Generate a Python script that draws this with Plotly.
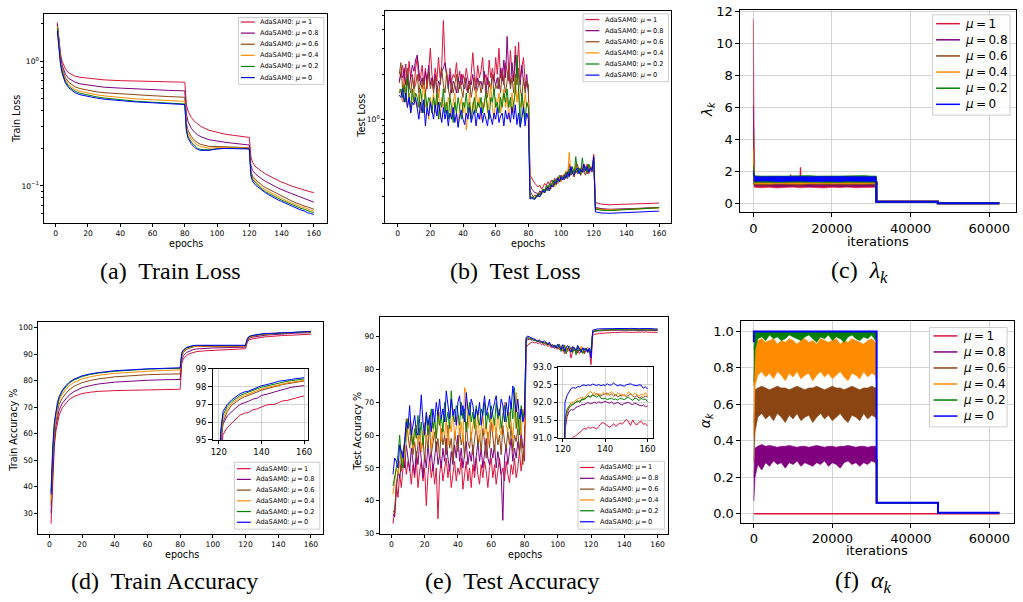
import math
import plotly.graph_objects as go

W, H = 1023, 602

# ======================= DATA =======================
MU_LABELS = ["1", "0.8", "0.6", "0.4", "0.2", "0"]

EPOCHS_TRAIN = [1, 2, 3, 4, 5, 6, 8, 10, 12, 15, 20, 25, 30, 40, 50, 60, 70, 79, 80,
                81, 82, 84, 86, 88, 90, 95, 100, 105, 110, 115, 119, 120, 121, 122,
                124, 126, 128, 130, 132, 134, 136, 138, 140, 142, 144, 146, 148, 150,
                152, 154, 156, 158, 160]

TRAIN_LOSS_MU1 = [2.05, 1.45, 1.15, 1.0, 0.92, 0.87, 0.81, 0.78, 0.76, 0.745, 0.73, 0.72, 0.71,
                  0.70, 0.695, 0.69, 0.685, 0.68, 0.68, 0.45, 0.40, 0.355, 0.33, 0.315, 0.30,
                  0.28, 0.268, 0.26, 0.255, 0.25, 0.245, 0.245, 0.17, 0.155,
                  0.142, 0.135, 0.13, 0.125, 0.121, 0.117, 0.113, 0.11, 0.107, 0.105, 0.102,
                  0.1, 0.098, 0.096, 0.095, 0.093, 0.091, 0.0895, 0.0885]
TRAIN_LOSS_MU08 = [2.0, 1.38, 1.08, 0.93, 0.84, 0.79, 0.73, 0.70, 0.68, 0.66, 0.645, 0.63, 0.62,
                   0.61, 0.60, 0.592, 0.585, 0.58, 0.58, 0.38, 0.33, 0.29, 0.27, 0.257, 0.248,
                   0.235, 0.228, 0.224, 0.22, 0.216, 0.213, 0.213, 0.145, 0.133,
                   0.124, 0.118, 0.113, 0.109, 0.105, 0.102, 0.099, 0.096, 0.094, 0.091, 0.089,
                   0.087, 0.085, 0.083, 0.081, 0.079, 0.077, 0.0755, 0.074]
TRAIN_LOSS_MU06 = [1.95, 1.32, 1.03, 0.88, 0.79, 0.74, 0.68, 0.65, 0.625, 0.605, 0.585, 0.57, 0.56,
                   0.548, 0.538, 0.53, 0.522, 0.515, 0.515, 0.32, 0.28, 0.25, 0.232, 0.222, 0.215,
                   0.208, 0.207, 0.206, 0.205, 0.204, 0.203, 0.203, 0.132, 0.12,
                   0.112, 0.106, 0.101, 0.097, 0.094, 0.091, 0.088, 0.085, 0.083, 0.08, 0.078,
                   0.076, 0.074, 0.072, 0.071, 0.069, 0.068, 0.066, 0.065]
TRAIN_LOSS_MU04 = [1.9, 1.28, 1.0, 0.85, 0.76, 0.71, 0.65, 0.62, 0.595, 0.575, 0.555, 0.54, 0.528,
                   0.512, 0.5, 0.492, 0.484, 0.477, 0.477, 0.30, 0.265, 0.238, 0.222, 0.212, 0.206,
                   0.201, 0.203, 0.204, 0.203, 0.202, 0.201, 0.201, 0.128, 0.116,
                   0.108, 0.102, 0.097, 0.093, 0.09, 0.087, 0.084, 0.082, 0.079, 0.077, 0.075,
                   0.073, 0.071, 0.07, 0.068, 0.067, 0.065, 0.064, 0.063]
TRAIN_LOSS_MU02 = [1.85, 1.25, 0.97, 0.83, 0.74, 0.69, 0.63, 0.60, 0.575, 0.555, 0.535, 0.52, 0.508,
                   0.49, 0.478, 0.47, 0.462, 0.455, 0.455, 0.285, 0.25, 0.225, 0.21, 0.2, 0.196,
                   0.195, 0.199, 0.201, 0.201, 0.2, 0.199, 0.199, 0.124, 0.113,
                   0.105, 0.099, 0.094, 0.09, 0.087, 0.084, 0.082, 0.079, 0.077, 0.075, 0.073,
                   0.071, 0.069, 0.068, 0.066, 0.065, 0.063, 0.062, 0.061]
TRAIN_LOSS_MU0 = [1.75, 1.2, 0.94, 0.8, 0.72, 0.67, 0.615, 0.585, 0.56, 0.54, 0.522, 0.508, 0.497,
                  0.482, 0.472, 0.465, 0.457, 0.45, 0.45, 0.275, 0.242, 0.218, 0.204, 0.196, 0.193,
                  0.193, 0.198, 0.2, 0.2, 0.199, 0.198, 0.198, 0.12, 0.109,
                  0.101, 0.096, 0.091, 0.088, 0.085, 0.082, 0.08, 0.077, 0.075, 0.073, 0.071,
                  0.069, 0.067, 0.066, 0.064, 0.063, 0.061, 0.06, 0.059]

TRAIN_ACC_MU1 = [26, 44, 55, 61, 64.5, 67, 69.8, 71.5, 72.8, 74, 75.1, 75.6, 75.9,
                 76.2, 76.4, 76.5, 76.6, 76.7, 76.7, 86.5, 88.2, 89.5, 90.2, 90.6, 90.9,
                 91.2, 91.35, 91.5, 91.6, 91.7, 91.8, 92.0, 94.3, 95.3,
                 95.7, 95.95, 96.15, 96.4, 96.5, 96.55, 96.7, 96.75, 96.85, 96.95, 97.0,
                 97.0, 97.1, 97.2, 97.22, 97.3, 97.35, 97.42, 97.48]
TRAIN_ACC_MU08 = [30, 47, 57, 63, 66.5, 69, 71.5, 73, 74.5, 75.8, 77.3, 78.1, 78.7,
                  79.4, 79.8, 80.1, 80.3, 80.4, 80.4, 87.8, 89.3, 90.6, 91.3, 91.7, 91.9,
                  92.2, 92.3, 92.35, 92.4, 92.45, 92.5, 92.6, 94.8, 95.9,
                  96.35, 96.6, 96.8, 97.0, 97.08, 97.18, 97.3, 97.35, 97.5, 97.55, 97.62,
                  97.7, 97.78, 97.85, 97.9, 97.96, 97.98, 98.02, 98.06]
TRAIN_ACC_MU06 = [33, 50, 59, 65, 68.5, 71, 73.5, 75, 76.5, 77.8, 79.2, 80, 80.6,
                  81.4, 81.9, 82.2, 82.4, 82.5, 82.5, 89.2, 90.6, 91.8, 92.4, 92.7, 92.85,
                  92.9, 92.85, 92.8, 92.75, 92.8, 92.85, 92.95, 95.0, 96.0,
                  96.6, 96.95, 97.15, 97.3, 97.42, 97.5, 97.6, 97.7, 97.8, 97.87, 97.92,
                  97.99, 98.06, 98.12, 98.16, 98.2, 98.25, 98.28, 98.32]
TRAIN_ACC_MU04 = [35, 52, 61, 66.5, 70, 72.5, 75, 76.6, 78, 79.3, 80.6, 81.4, 82,
                  82.7, 83.2, 83.5, 83.8, 84, 84, 89.8, 91, 92.1, 92.7, 92.9, 93.0,
                  93.05, 93.0, 92.95, 92.9, 92.95, 93.0, 93.1, 95.2, 96.2,
                  96.75, 97.05, 97.25, 97.4, 97.5, 97.58, 97.68, 97.78, 97.87, 97.93, 97.98,
                  98.05, 98.12, 98.17, 98.21, 98.25, 98.29, 98.32, 98.35]
TRAIN_ACC_MU02 = [38, 54, 63, 68, 71, 73.5, 76, 77.6, 79, 80.2, 81.5, 82.3, 82.8,
                  83.5, 84, 84.3, 84.5, 84.6, 84.6, 90.2, 91.4, 92.4, 92.9, 93.1, 93.2,
                  93.2, 93.1, 93.05, 93.0, 93.05, 93.1, 93.2, 95.4, 96.4,
                  96.9, 97.15, 97.35, 97.5, 97.6, 97.68, 97.78, 97.88, 97.97, 98.03, 98.08,
                  98.15, 98.22, 98.26, 98.3, 98.34, 98.38, 98.41, 98.43]
TRAIN_ACC_MU0 = [37, 55, 64, 69, 72, 74, 76.5, 78, 79.3, 80.5, 81.8, 82.5, 83.0,
                 83.7, 84.1, 84.4, 84.6, 84.8, 84.8, 90.5, 91.6, 92.5, 93.0, 93.2, 93.3,
                 93.3, 93.2, 93.15, 93.1, 93.15, 93.2, 93.3, 95.6, 96.6,
                 97.0, 97.25, 97.45, 97.6, 97.7, 97.75, 97.85, 97.95, 98.05, 98.1, 98.15,
                 98.22, 98.3, 98.32, 98.38, 98.4, 98.45, 98.48, 98.5]

EPOCHS_TEST_LOSS = list(range(1, 121)) + [121, 125, 130, 135, 140, 145, 150, 155, 160]

TEST_LOSS_MU1 = [
    1.75, 2.1, 2.3, 1.8, 2.35, 1.7, 2.45, 1.9, 2.0, 1.6,
    2.2, 2.6, 1.8, 1.9, 2.3, 1.7, 2.2, 1.6, 2.1, 3.0,
    2.0, 1.7, 2.2, 1.8, 2.6, 1.9, 2.3, 4.6, 2.4, 2.0,
    1.7, 2.2, 1.8, 2.0, 1.9, 2.4, 1.8, 2.1, 1.7, 2.0,
    1.8, 2.2, 1.9, 1.6, 2.0, 2.8, 2.0, 1.7, 2.3, 1.9,
    2.1, 2.6, 1.8, 2.0, 1.7, 2.5, 1.9, 2.2, 1.8, 2.6,
    2.0, 3.0, 1.9, 2.2, 1.7, 2.4, 2.1, 1.8, 2.9, 2.0,
    1.8, 3.1, 2.0, 3.3, 1.9, 2.2, 2.6, 1.8, 1.7, 1.6,
    0.42, 0.40, 0.39, 0.37, 0.36, 0.35, 0.36, 0.34, 0.35, 0.37,
    0.36, 0.38, 0.36, 0.39, 0.37, 0.40, 0.38, 0.41, 0.39, 0.42,
    0.40, 0.43, 0.41, 0.45, 0.42, 0.48, 0.43, 0.46, 0.44, 0.50,
    0.45, 0.47, 0.44, 0.49, 0.46, 0.50, 0.45, 0.48, 0.47, 0.58,
    0.275, 0.268, 0.266, 0.267, 0.268, 0.269, 0.27, 0.272, 0.273]
TEST_LOSS_MU08 = [
    1.8, 2.0, 1.9, 2.2, 1.7, 2.0, 1.6, 1.9, 2.3, 2.1,
    2.5, 2.7, 2.0, 1.7, 1.9, 1.6, 2.1, 1.8, 2.3, 1.7,
    1.9, 1.6, 2.0, 1.5, 1.8, 1.7, 2.1, 2.2, 2.4, 1.9,
    1.6, 2.0, 1.5, 1.8, 1.7, 1.5, 1.9, 1.6, 2.0, 1.7,
    1.6, 1.9, 1.5, 1.8, 1.7, 2.0, 1.6, 1.5, 1.9, 1.7,
    1.8, 1.6, 2.1, 1.5, 1.9, 1.7, 1.6, 2.0, 1.8, 1.7,
    1.9, 1.6, 2.2, 1.8, 2.5, 1.9, 3.6, 2.0, 1.7, 2.4,
    1.8, 2.7, 1.9, 2.0, 1.7, 2.3, 1.8, 1.6, 2.0, 1.5,
    0.37, 0.34, 0.33, 0.32, 0.32, 0.31, 0.33, 0.32, 0.34, 0.33,
    0.35, 0.34, 0.36, 0.35, 0.37, 0.36, 0.38, 0.37, 0.40, 0.38,
    0.41, 0.39, 0.43, 0.40, 0.46, 0.42, 0.44, 0.41, 0.47, 0.43,
    0.45, 0.42, 0.49, 0.44, 0.46, 0.43, 0.48, 0.45, 0.44, 0.53,
    0.255, 0.25, 0.248, 0.248, 0.25, 0.251, 0.252, 0.254, 0.255]
TEST_LOSS_MU06 = [
    2.0, 2.4, 1.6, 1.8, 1.5, 2.2, 1.7, 1.5, 1.9, 1.6,
    1.7, 2.0, 1.5, 1.8, 1.6, 1.9, 1.5, 1.7, 2.1, 1.6,
    1.8, 1.5, 1.9, 1.6, 1.4, 1.8, 2.2, 1.7, 1.5, 2.1,
    1.6, 1.4, 1.8, 1.5, 1.7, 2.0, 1.5, 1.8, 1.6, 1.4,
    1.9, 1.6, 1.5, 1.8, 1.4, 1.7, 1.9, 1.5, 1.6, 1.8,
    1.5, 1.7, 1.9, 1.6, 1.4, 1.8, 1.6, 2.0, 1.5, 1.7,
    1.6, 1.9, 1.5, 2.1, 1.7, 1.5, 1.8, 2.3, 1.6, 1.9,
    1.5, 2.0, 1.7, 2.2, 1.6, 1.4, 1.9, 1.5, 1.8, 1.7,
    0.33, 0.31, 0.30, 0.31, 0.30, 0.32, 0.31, 0.33, 0.32, 0.34,
    0.33, 0.36, 0.34, 0.37, 0.35, 0.39, 0.36, 0.40, 0.38, 0.42,
    0.39, 0.41, 0.44, 0.40, 0.50, 0.42, 0.45, 0.41, 0.48, 0.43,
    0.46, 0.42, 0.47, 0.44, 0.42, 0.48, 0.43, 0.46, 0.45, 0.52,
    0.252, 0.248, 0.246, 0.247, 0.248, 0.25, 0.251, 0.253, 0.255]
TEST_LOSS_MU04 = [
    1.6, 1.5, 1.3, 1.8, 1.4, 1.2, 1.5, 1.1, 1.4, 1.6,
    1.3, 1.2, 1.5, 1.1, 1.4, 1.7, 1.2, 1.3, 1.0, 1.4,
    1.2, 1.5, 1.1, 1.3, 1.6, 1.0, 1.4, 1.2, 1.3, 1.1,
    1.4, 1.2, 1.0, 1.3, 1.5, 1.1, 0.9, 1.2, 1.4, 1.1,
    1.3, 0.85, 1.2, 1.5, 1.0, 1.3, 1.1, 1.6, 1.2, 1.4,
    1.0, 1.3, 1.2, 1.5, 1.1, 1.3, 1.7, 1.2, 1.0, 1.4,
    1.2, 1.5, 1.1, 1.3, 1.6, 1.2, 1.4, 1.0, 1.3, 1.5,
    1.1, 1.9, 1.3, 1.6, 1.2, 1.4, 1.1, 1.5, 1.2, 1.3,
    0.31, 0.30, 0.29, 0.30, 0.31, 0.30, 0.32, 0.31, 0.33, 0.32,
    0.35, 0.33, 0.36, 0.34, 0.38, 0.35, 0.39, 0.37, 0.41, 0.38,
    0.42, 0.40, 0.45, 0.41, 0.60, 0.43, 0.47, 0.42, 0.50, 0.44,
    0.46, 0.43, 0.49, 0.45, 0.47, 0.44, 0.48, 0.46, 0.45, 0.54,
    0.25, 0.246, 0.245, 0.246, 0.247, 0.249, 0.25, 0.252, 0.253]
TEST_LOSS_MU02 = [
    1.5, 1.6, 1.4, 1.7, 1.3, 1.9, 1.4, 1.2, 1.6, 1.3,
    1.5, 1.4, 1.2, 1.6, 1.3, 1.1, 1.5, 1.2, 1.4, 1.3,
    1.1, 1.4, 1.2, 1.5, 1.0, 1.3, 1.2, 1.6, 1.1, 1.3,
    1.0, 1.4, 1.2, 0.95, 1.3, 1.1, 1.4, 1.2, 1.0, 1.3,
    1.2, 1.5, 1.1, 1.3, 1.0, 1.2, 1.4, 1.1, 1.3, 1.2,
    1.4, 1.1, 1.3, 1.5, 1.2, 1.0, 1.4, 1.3, 1.6, 1.2,
    1.3, 1.1, 1.4, 1.2, 1.5, 1.3, 1.6, 1.2, 1.4, 1.1,
    1.3, 1.5, 2.7, 1.4, 0.9, 1.5, 1.2, 1.0, 1.3, 1.2,
    0.30, 0.29, 0.30, 0.29, 0.31, 0.30, 0.32, 0.31, 0.34, 0.32,
    0.36, 0.33, 0.37, 0.35, 0.39, 0.36, 0.40, 0.38, 0.42, 0.39,
    0.41, 0.40, 0.44, 0.41, 0.46, 0.43, 0.48, 0.42, 0.56, 0.44,
    0.47, 0.43, 0.55, 0.45, 0.48, 0.44, 0.50, 0.46, 0.47, 0.55,
    0.248, 0.244, 0.243, 0.245, 0.246, 0.248, 0.25, 0.252, 0.254]
TEST_LOSS_MU0 = [
    1.45, 1.4, 1.6, 1.3, 1.5, 1.2, 1.4, 1.1, 1.3, 1.25,
    1.4, 1.2, 1.0, 1.3, 1.1, 1.35, 0.9, 1.2, 1.05, 1.3,
    1.1, 1.0, 1.25, 1.05, 1.3, 1.1, 0.95, 1.2, 1.0, 1.15,
    0.9, 1.1, 1.0, 1.2, 0.95, 1.1, 0.88, 1.05, 1.15, 1.0,
    0.92, 1.1, 1.0, 1.2, 0.95, 1.05, 1.15, 0.9, 1.1, 1.0,
    1.2, 0.95, 1.1, 1.0, 0.9, 1.15, 1.05, 0.92, 1.1, 1.0,
    1.2, 0.95, 1.05, 1.1, 0.9, 1.15, 1.0, 1.1, 0.95, 1.2,
    1.0, 1.25, 0.92, 1.1, 0.88, 1.05, 1.2, 0.9, 1.1, 1.0,
    0.29, 0.30, 0.29, 0.29, 0.30, 0.31, 0.30, 0.32, 0.33, 0.32,
    0.34, 0.35, 0.33, 0.36, 0.35, 0.38, 0.37, 0.40, 0.38, 0.41,
    0.39, 0.42, 0.40, 0.44, 0.41, 0.48, 0.43, 0.42, 0.45, 0.47,
    0.43, 0.46, 0.44, 0.50, 0.45, 0.48, 0.44, 0.47, 0.45, 0.56,
    0.238, 0.234, 0.233, 0.234, 0.236, 0.237, 0.238, 0.24, 0.241]

EPOCHS_TEST_ACC = list(range(1, 161))

TEST_ACC_MU1 = [
    33, 37, 45, 41, 48, 44, 50, 53, 48, 52,
    50, 45, 51, 47, 53, 44, 49, 52, 46, 50,
    38.5, 48, 53, 47, 51, 45, 50, 34.5, 48, 52,
    46, 50, 53, 47, 51, 44, 49, 52, 46, 50,
    48, 53, 43.5, 49, 52, 46, 50, 44, 51, 47,
    53, 48, 45, 51, 47, 52, 49, 44, 50, 53,
    47, 51, 45, 49, 53, 48, 50, 46, 52, 48,
    45.5, 51, 48, 53, 47, 50, 55, 49, 54, 52,
    86.7, 87.5, 87.9, 88.2, 88.4, 88.1, 88.3, 87.9, 88.2, 87.6,
    87.9, 87.3, 87.7, 87.0, 87.4, 86.7, 87.1, 86.4, 86.9, 86.2,
    86.7, 85.9, 86.5, 84.8, 86.0, 85.6, 86.4, 83.5, 85.8, 86.2,
    85.2, 86.0, 84.9, 85.7, 86.3, 85.0, 85.8, 85.3, 85.9, 81.5,
    90.5, 90.7, 90.85, 90.95, 91.03, 91.05, 91.1, 91.14, 91.2, 91.27,
    91.24, 91.3, 91.26, 91.3, 91.28, 91.25, 91.32, 91.4, 91.43, 91.38,
    91.35, 91.3, 91.33, 91.4, 91.32, 91.36, 91.42, 91.38, 91.45, 91.52,
    91.45, 91.35, 91.5, 91.4, 91.36, 91.44, 91.46, 91.38, 91.4, 91.33]
TEST_ACC_MU08 = [
    36, 35, 43, 49, 47, 52, 55, 50, 57, 53,
    49, 56, 52, 48, 55, 51, 58, 53, 47, 54,
    50, 57, 52, 55, 49, 53, 58, 51, 54, 50,
    56, 52, 59, 53, 49, 55, 51, 57, 53, 60,
    52, 56, 50, 54, 58, 51, 55, 52, 57, 49,
    54, 58, 52, 56, 50, 55, 59, 53, 51, 56,
    53, 57, 50, 55, 52, 48, 34, 53, 57, 51,
    55, 59, 52, 56, 53, 58, 55, 61, 56, 57,
    88.7, 89.1, 89.2, 89.0, 89.3, 88.9, 88.8, 88.5, 88.7, 88.3,
    88.4, 87.9, 88.2, 87.6, 87.9, 87.3, 87.6, 86.9, 87.3, 86.6,
    87.0, 86.2, 86.8, 85.9, 86.6, 86.2, 85.8, 86.7, 85.5, 86.3,
    85.9, 85.2, 86.5, 85.6, 86.1, 85.3, 86.4, 85.7, 85.9, 84.9,
    91.2, 91.6, 91.75, 91.8, 91.78, 91.85, 91.88, 91.9, 91.95, 91.93,
    91.97, 92.0, 91.96, 91.98, 92.0, 91.97, 92.02, 91.98, 92.0, 92.03,
    92.0, 91.98, 92.02, 91.95, 91.98, 92.0, 91.96, 91.93, 91.97, 91.98,
    92.0, 91.96, 91.94, 91.98, 91.95, 91.92, 91.9, 91.93, 91.88, 91.9]
TEST_ACC_MU06 = [
    37, 36, 45, 48, 52, 49, 55, 58, 65, 60,
    56, 61, 54, 58, 53, 57, 62, 55, 59, 52,
    60, 56, 63, 54, 58, 61, 55, 59, 53, 62,
    57, 60, 54, 63, 56, 59, 52, 61, 58, 55,
    62, 57, 60, 53, 64, 58, 56, 61, 54, 59,
    63, 57, 60, 55, 62, 58, 53, 61, 56, 64,
    59, 55, 62, 57, 60, 54, 63, 58, 56, 61,
    57, 63, 55, 60, 58, 62, 54, 59, 51, 60,
    89.2, 89.5, 89.3, 89.6, 89.0, 89.2, 88.7, 88.9, 88.4, 88.6,
    88.0, 88.3, 87.6, 88.0, 87.3, 87.7, 86.8, 87.4, 86.5, 87.2,
    86.0, 86.9, 85.6, 87.0, 85.8, 86.6, 86.1, 85.3, 86.8, 85.9,
    86.4, 85.0, 86.3, 85.7, 86.6, 84.8, 86.0, 85.5, 86.2, 85.4,
    91.3, 91.7, 91.85, 91.9, 91.95, 92.0, 92.02, 92.05, 92.08, 92.1,
    92.12, 92.2, 92.15, 92.22, 92.2, 92.25, 92.22, 92.18, 92.22, 92.25,
    92.27, 92.2, 92.24, 92.18, 92.22, 92.15, 92.2, 92.18, 92.22, 92.16,
    92.2, 92.24, 92.18, 92.15, 92.2, 92.12, 92.16, 92.14, 92.18, 92.16]
TEST_ACC_MU04 = [
    42, 46, 50, 48, 52, 55, 51, 53, 58, 65,
    60, 64, 56, 59, 63, 57, 61, 55, 60, 64,
    58, 62, 66, 56, 61, 65, 59, 63, 67, 58,
    62, 60, 65, 57, 64, 61, 68, 59, 63, 66,
    60, 64, 58, 74.5, 73, 62, 66, 59, 63, 65,
    61, 67, 58, 62, 66, 60, 64, 57, 63, 67,
    61, 65, 59, 68, 62, 60, 66, 70, 63, 61,
    67, 64, 59, 66, 73, 62, 65, 60, 68, 63,
    89.3, 89.7, 89.4, 89.6, 89.1, 89.3, 88.8, 88.6, 88.9, 88.3,
    88.5, 88.0, 87.7, 88.2, 87.4, 87.8, 86.9, 87.5, 86.6, 87.1,
    86.3, 87.4, 85.9, 86.8, 87.3, 85.5, 86.7, 85.9, 87.0, 86.2,
    85.4, 86.6, 85.7, 87.1, 85.1, 86.4, 85.8, 86.9, 85.3, 86.0,
    91.4, 91.8, 91.9, 92.0, 92.0, 92.05, 92.1, 92.12, 92.15, 92.1,
    92.2, 92.25, 92.32, 92.25, 92.28, 92.2, 92.25, 92.22, 92.28, 92.25,
    92.2, 92.27, 92.3, 92.24, 92.2, 92.28, 92.22, 92.25, 92.18, 92.22,
    92.3, 92.25, 92.2, 92.26, 92.22, 92.18, 92.24, 92.2, 92.28, 92.2]
TEST_ACC_MU02 = [
    44.5, 47, 50, 54, 60, 52, 50, 57, 61, 65,
    63, 60, 57, 62, 59, 66, 60, 64, 57, 62,
    66, 60, 64, 68, 62, 65, 59, 67, 63, 66,
    61, 70, 64, 67, 62, 73.5, 66, 64, 69, 67,
    63, 70, 65, 68, 61, 66, 70, 64, 67, 62,
    69, 65, 63, 68, 66, 70, 62, 67, 64, 69,
    66, 63, 70, 65, 68, 62, 66, 69, 64, 67,
    62, 70, 65, 74.5, 62, 67, 60, 69, 65, 68,
    89.5, 89.8, 89.6, 89.3, 89.0, 88.8, 88.9, 88.5, 88.7, 88.2,
    88.5, 87.8, 88.4, 87.5, 87.9, 87.2, 87.6, 86.8, 87.3, 86.5,
    87.8, 85.5, 86.9, 87.5, 84.8, 86.4, 87.2, 85.9, 85.2, 86.7,
    84.5, 87.0, 85.8, 86.3, 84.9, 86.5, 85.6, 86.2, 85.0, 85.8,
    91.5, 91.8, 91.9, 91.95, 91.95, 92.0, 92.05, 92.0, 92.1, 92.08,
    92.12, 92.18, 92.15, 92.2, 92.18, 92.15, 92.2, 92.12, 92.1, 92.12,
    92.08, 92.1, 92.12, 92.08, 92.1, 92.06, 92.12, 92.1, 92.08, 92.12,
    92.15, 92.1, 92.06, 92.12, 92.1, 92.05, 92.12, 92.08, 92.1, 92.02]
TEST_ACC_MU0 = [
    48, 53, 52, 50, 57, 55, 53, 58, 64, 62,
    69, 60, 63, 66, 61, 60, 65, 72.3, 64, 60,
    67, 63, 66, 61, 68, 64, 70, 66, 71, 65,
    68, 64, 73.5, 69, 65, 71, 66, 68, 63, 70,
    72, 66, 69, 64, 73, 68, 66, 71, 69, 65,
    68, 66, 70, 63, 67, 72, 66, 69, 71, 65,
    68, 70, 72, 67, 66, 71, 69, 64, 70, 66,
    72, 68, 75, 70, 67, 71, 65, 68, 64, 66,
    89.8, 90.2, 90.0, 89.7, 89.5, 89.2, 89.0, 88.6, 89.0, 88.5,
    88.3, 88.8, 88.0, 87.6, 88.4, 87.2, 86.8, 87.5, 86.5, 87.8,
    86.9, 86.2, 87.6, 85.5, 86.8, 87.3, 86.1, 85.4, 87.0, 86.3,
    85.8, 87.4, 86.0, 85.2, 86.7, 85.9, 86.5, 85.3, 86.6, 83.5,
    92.0, 92.2, 92.3, 92.4, 92.42, 92.4, 92.45, 92.44, 92.48, 92.5,
    92.47, 92.5, 92.48, 92.52, 92.5, 92.48, 92.51, 92.47, 92.5, 92.48,
    92.53, 92.49, 92.5, 92.55, 92.5, 92.47, 92.5, 92.48, 92.46, 92.5,
    92.52, 92.53, 92.5, 92.48, 92.47, 92.5, 92.49, 92.4, 92.45, 92.38]

# lambda_k : per-iteration band envelopes (upper / lower) during epochs 1-80
LAM_ITERS = [0, 300, 2000, 4000, 6000, 8000, 10000, 12000, 14000, 16000, 18000,
             20000, 22000, 24000, 26000, 28000, 30000, 31280]
LAM_UP_MU1 = [11.5, 1.6, 1.58, 1.6, 1.57, 1.6, 1.59, 1.6, 1.58, 1.6, 1.59, 1.58, 1.6, 1.59, 1.6, 1.58, 1.6, 1.59]
LAM_LO_MU1 = [1.5, 1.0, 0.97, 1.0, 0.96, 0.99, 1.01, 0.97, 1.0, 0.98, 0.96, 1.0, 0.98, 1.01, 0.97, 0.99, 0.98, 1.0]
LAM_UP_MU08 = [6.1, 1.62, 1.6, 1.61, 1.6, 1.62, 1.6, 1.61, 1.6, 1.62, 1.6, 1.61, 1.6, 1.62, 1.6, 1.61, 1.6, 1.61]
LAM_LO_MU08 = [1.5, 1.08, 1.06, 1.08, 1.05, 1.07, 1.06, 1.08, 1.05, 1.07, 1.06, 1.08, 1.05, 1.07, 1.06, 1.05, 1.07, 1.06]
LAM_UP_MU06 = [4.3, 1.62, 1.61, 1.62, 1.6, 1.62, 1.61, 1.62, 1.6, 1.61, 1.62, 1.6, 1.62, 1.61, 1.62, 1.6, 1.61, 1.62]
LAM_LO_MU06 = [1.6, 1.14, 1.15, 1.13, 1.16, 1.14, 1.15, 1.13, 1.16, 1.14, 1.15, 1.13, 1.15, 1.14, 1.16, 1.13, 1.15, 1.14]
LAM_UP_MU04 = [3.4, 1.65, 1.64, 1.65, 1.66, 1.64, 1.65, 1.64, 1.66, 1.65, 1.64, 1.65, 1.66, 1.64, 1.65, 1.64, 1.66, 1.65]
LAM_LO_MU04 = [1.7, 1.22, 1.23, 1.21, 1.24, 1.22, 1.23, 1.21, 1.24, 1.22, 1.23, 1.22, 1.24, 1.21, 1.23, 1.22, 1.24, 1.22]
LAM_UP_MU02 = [2.4, 1.72, 1.7, 1.72, 1.71, 1.7, 1.72, 1.71, 1.73, 1.7, 1.72, 1.71, 1.7, 1.72, 1.71, 1.73, 1.7, 1.71]
LAM_LO_MU02 = [1.8, 1.3, 1.31, 1.3, 1.32, 1.3, 1.31, 1.3, 1.32, 1.31, 1.3, 1.32, 1.3, 1.31, 1.3, 1.32, 1.31, 1.3]
LAM_UP_MU0 = [2.1, 1.68, 1.66, 1.67, 1.65, 1.67, 1.66, 1.68, 1.66, 1.67, 1.65, 1.67, 1.66, 1.68, 1.66, 1.67, 1.66, 1.65]
LAM_LO_MU0 = [1.9, 1.38, 1.37, 1.39, 1.36, 1.38, 1.37, 1.39, 1.36, 1.38, 1.37, 1.38, 1.36, 1.39, 1.37, 1.38, 1.36, 1.37]
LAM_SPIKE_ITERS = [9400, 9500, 9600, 11900, 12000, 12100]
LAM_SPIKE_MU1 = [1.6, 1.8, 1.6, 1.6, 2.25, 1.6]
LAM_POST_ITERS = [31280, 31280, 46920, 46920, 62560]
LAM_POST = [1.37, 0.1, 0.1, 0.005, 0.005]

# alpha_k : band envelopes during epochs 1-80
AL_ITERS = [0, 300, 1000, 2000, 3000, 4000, 5000, 6000, 7000, 8000, 9000, 10000,
            11000, 12000, 13000, 14000, 15000, 16000, 17000, 18000, 19000, 20000,
            21000, 22000, 23000, 24000, 25000, 26000, 27000, 28000, 29000, 30000,
            31000, 31280]
AL_UP_MU08 = [0.2, 0.36, 0.37, 0.38, 0.37, 0.375, 0.37, 0.365, 0.37, 0.37, 0.375, 0.37,
              0.365, 0.37, 0.37, 0.365, 0.37, 0.375, 0.37, 0.365, 0.37, 0.37, 0.365,
              0.37, 0.37, 0.375, 0.37, 0.365, 0.37, 0.37, 0.365, 0.37, 0.37, 0.365]
AL_LO_MU08 = [0.07, 0.2, 0.27, 0.24, 0.28, 0.26, 0.29, 0.27, 0.28, 0.25, 0.28, 0.27,
              0.29, 0.26, 0.28, 0.27, 0.26, 0.28, 0.27, 0.29, 0.26, 0.28, 0.27,
              0.25, 0.28, 0.29, 0.27, 0.28, 0.26, 0.28, 0.27, 0.29, 0.28, 0.26]
AL_UP_MU06 = [0.5, 0.68, 0.69, 0.7, 0.69, 0.68, 0.69, 0.7, 0.69, 0.69, 0.68, 0.69,
              0.7, 0.69, 0.68, 0.69, 0.69, 0.7, 0.69, 0.68, 0.69, 0.7, 0.69,
              0.69, 0.68, 0.69, 0.7, 0.69, 0.68, 0.69, 0.69, 0.7, 0.69, 0.68]
AL_LO_MU06 = [0.28, 0.45, 0.53, 0.55, 0.52, 0.54, 0.51, 0.55, 0.53, 0.5, 0.54, 0.52,
              0.55, 0.51, 0.53, 0.54, 0.5, 0.53, 0.55, 0.52, 0.54, 0.51, 0.53,
              0.55, 0.52, 0.5, 0.54, 0.53, 0.51, 0.55, 0.52, 0.54, 0.53, 0.51]
AL_UP_MU04 = [0.7, 0.93, 0.95, 0.96, 0.94, 0.95, 0.96, 0.93, 0.95, 0.94, 0.96, 0.95,
              0.93, 0.95, 0.96, 0.94, 0.95, 0.93, 0.96, 0.95, 0.94, 0.95, 0.96,
              0.93, 0.95, 0.94, 0.96, 0.95, 0.94, 0.93, 0.95, 0.96, 0.94, 0.95]
AL_LO_MU04 = [0.42, 0.7, 0.76, 0.78, 0.75, 0.77, 0.74, 0.78, 0.76, 0.73, 0.77, 0.75,
              0.78, 0.74, 0.76, 0.77, 0.73, 0.76, 0.78, 0.75, 0.77, 0.74, 0.76,
              0.78, 0.75, 0.73, 0.77, 0.76, 0.74, 0.78, 0.75, 0.77, 0.76, 0.72]
AL_UP_MU02 = [0.9, 1.0, 1.0, 1.0, 1.0, 1.0, 1.0, 1.0, 1.0, 1.0, 1.0, 1.0,
              1.0, 1.0, 1.0, 1.0, 1.0, 1.0, 1.0, 1.0, 1.0, 1.0, 1.0,
              1.0, 1.0, 1.0, 1.0, 1.0, 1.0, 1.0, 1.0, 1.0, 1.0, 1.0]
AL_LO_MU02 = [0.72, 0.9, 0.96, 0.97, 0.95, 0.98, 0.96, 0.97, 0.95, 0.96, 0.98, 0.97,
              0.96, 0.95, 0.97, 0.98, 0.96, 0.94, 0.97, 0.96, 0.98, 0.95, 0.97,
              0.96, 0.94, 0.97, 0.98, 0.96, 0.95, 0.97, 0.96, 0.98, 0.95, 0.97]
AL_MU1_ITERS = [0, 62560]
AL_MU1 = [0.0, 0.0]
AL_MU0_ITERS = [0, 0, 31280, 31280, 46920, 46920, 62560]
AL_MU0 = [0.94, 1.0, 1.0, 0.06, 0.06, 0.005, 0.005]
AL_POST_ITERS = [31280, 31280, 46920, 46920, 62560]
AL_POST = [0.3, 0.06, 0.06, 0.005, 0.005]

IT_TICKS = [0, 20000, 40000, 60000]
IT_TICK_LABELS = ["0", "20000", "40000", "60000"]

# ======================= STYLE =======================
COLORS = ["#DC143C", "#800080", "#8B4513", "#FF8C00", "#008000", "#0000FF"]

TRAIN_LOSS = [TRAIN_LOSS_MU1, TRAIN_LOSS_MU08, TRAIN_LOSS_MU06, TRAIN_LOSS_MU04, TRAIN_LOSS_MU02, TRAIN_LOSS_MU0]
TRAIN_ACC = [TRAIN_ACC_MU1, TRAIN_ACC_MU08, TRAIN_ACC_MU06, TRAIN_ACC_MU04, TRAIN_ACC_MU02, TRAIN_ACC_MU0]
TEST_LOSS = [TEST_LOSS_MU1, TEST_LOSS_MU08, TEST_LOSS_MU06, TEST_LOSS_MU04, TEST_LOSS_MU02, TEST_LOSS_MU0]
TEST_ACC = [TEST_ACC_MU1, TEST_ACC_MU08, TEST_ACC_MU06, TEST_ACC_MU04, TEST_ACC_MU02, TEST_ACC_MU0]
LAM_UP = [LAM_UP_MU1, LAM_UP_MU08, LAM_UP_MU06, LAM_UP_MU04, LAM_UP_MU02, LAM_UP_MU0]
LAM_LO = [LAM_LO_MU1, LAM_LO_MU08, LAM_LO_MU06, LAM_LO_MU04, LAM_LO_MU02, LAM_LO_MU0]
AL_UP = [AL_UP_MU08, AL_UP_MU06, AL_UP_MU04, AL_UP_MU02]
AL_LO = [AL_LO_MU08, AL_LO_MU06, AL_LO_MU04, AL_LO_MU02]

for s in TRAIN_LOSS + TRAIN_ACC:
    assert len(s) == len(EPOCHS_TRAIN), len(s)
for s in TEST_LOSS:
    assert len(s) == len(EPOCHS_TEST_LOSS), len(s)
for s in TEST_ACC:
    assert len(s) == len(EPOCHS_TEST_ACC), len(s)
for s in LAM_UP + LAM_LO:
    assert len(s) == len(LAM_ITERS), len(s)
for s in AL_UP + AL_LO:
    assert len(s) == len(AL_ITERS), len(s)


def X(p):
    return p / W


def Y(p):
    return 1 - p / H


fig = go.Figure()


def line(xs, ys, color, ax, width=1.0):
    fig.add_trace(go.Scatter(x=xs, y=ys, mode="lines", line=dict(color=color, width=width),
                             xaxis=ax[0], yaxis=ax[1], showlegend=False, hoverinfo="skip"))


def band(xs, up, lo, color, ax):
    fig.add_trace(go.Scatter(x=list(xs) + list(xs)[::-1], y=list(up) + list(lo)[::-1],
                             mode="lines", fill="toself", fillcolor=color,
                             line=dict(color=color, width=0.6),
                             xaxis=ax[0], yaxis=ax[1], showlegend=False, hoverinfo="skip"))


# (a) train loss, (d) train accuracy + inset
for i in range(6):
    line(EPOCHS_TRAIN, TRAIN_LOSS[i], COLORS[i], ("x", "y"))
for i in range(6):
    line(EPOCHS_TRAIN, TRAIN_ACC[i], COLORS[i], ("x4", "y4"))
for i in range(6):
    line(EPOCHS_TRAIN, TRAIN_ACC[i], COLORS[i], ("x7", "y7"))
# (b) test loss, (e) test accuracy + inset
for i in range(6):
    line(EPOCHS_TEST_LOSS, TEST_LOSS[i], COLORS[i], ("x2", "y2"))
for i in range(6):
    line(EPOCHS_TEST_ACC, TEST_ACC[i], COLORS[i], ("x5", "y5"))
for i in range(6):
    line(EPOCHS_TEST_ACC, TEST_ACC[i], COLORS[i], ("x8", "y8"))
# (c) lambda_k
for i in range(6):
    band(LAM_ITERS, LAM_UP[i], LAM_LO[i], COLORS[i], ("x3", "y3"))
    if i == 0:
        line(LAM_SPIKE_ITERS, LAM_SPIKE_MU1, COLORS[0], ("x3", "y3"), 1.2)
    line(LAM_POST_ITERS, LAM_POST, COLORS[i], ("x3", "y3"), 2.0)
# (f) alpha_k
line(AL_MU1_ITERS, AL_MU1, COLORS[0], ("x6", "y6"), 1.3)
for j in range(4):
    band(AL_ITERS, AL_UP[j], AL_LO[j], COLORS[j + 1], ("x6", "y6"))
    line(AL_POST_ITERS, AL_POST, COLORS[j + 1], ("x6", "y6"), 1.5)
line(AL_MU0_ITERS, AL_MU0, COLORS[5], ("x6", "y6"), 2.0)


def ax_style(size, grid=False, tl=3.5):
    return dict(showline=True, linecolor="black", linewidth=1, mirror=True,
                ticks="outside", ticklen=tl, tickwidth=0.8, tickcolor="black",
                showgrid=grid, gridcolor="#d3d3d3", gridwidth=1, zeroline=False,
                tickfont=dict(family="DejaVu Sans", size=size, color="black"))


EP_TICKS = [0, 20, 40, 60, 80, 100, 120, 140, 160]
SM = 7.6
BG = 13

layout_axes = dict(
    xaxis=dict(domain=[X(41.7), X(326)], anchor="y", range=[-7, 168], tickvals=EP_TICKS, **ax_style(SM, tl=3)),
    yaxis=dict(domain=[Y(222), Y(9.3)], anchor="x", type="log", range=[math.log10(0.0501), 0.379],
               tickvals=[0.1, 1], ticktext=["10<sup>−1</sup>", "10<sup>0</sup>"],
               minor=dict(tickvals=[0.06, 0.07, 0.08, 0.09, 0.2, 0.3, 0.4, 0.5, 0.6, 0.7, 0.8, 0.9, 2],
                          ticks="outside", ticklen=2, tickcolor="black", tickwidth=0.6),
               **ax_style(SM, tl=3)),
    xaxis2=dict(domain=[X(385), X(673)], anchor="y2", range=[-7.5, 167.5], tickvals=EP_TICKS, **ax_style(SM, tl=3)),
    yaxis2=dict(domain=[Y(222), Y(6)], anchor="x2", type="log", range=[-0.700, 0.728],
                tickvals=[1], ticktext=["10<sup>0</sup>"],
                minor=dict(tickvals=[0.2, 0.3, 0.4, 0.5, 0.6, 0.7, 0.8, 0.9, 2, 3, 4, 5],
                           ticks="outside", ticklen=2, tickcolor="black", tickwidth=0.6),
                **ax_style(SM, tl=3)),
    xaxis3=dict(domain=[X(742), X(1020)], anchor="y3", range=[-3400, 66800], tickvals=IT_TICKS,
                ticktext=IT_TICK_LABELS, **ax_style(BG, True)),
    yaxis3=dict(domain=[Y(211), Y(5)], anchor="x3", range=[-0.575, 12.075], tickvals=[0, 2, 4, 6, 8, 10, 12], **ax_style(BG, True)),
    xaxis4=dict(domain=[X(35.7), X(322.7)], anchor="y4", range=[-6.7, 167.7], tickvals=EP_TICKS, **ax_style(SM, tl=3)),
    yaxis4=dict(domain=[Y(537.7), Y(322.3)], anchor="x4", range=[22.2, 102.1], tickvals=[30, 40, 50, 60, 70, 80, 90, 100], **ax_style(SM, tl=3)),
    xaxis5=dict(domain=[X(379.3), X(670)], anchor="y5", range=[-7, 166.5], tickvals=EP_TICKS, **ax_style(SM, tl=3)),
    yaxis5=dict(domain=[Y(537.7), Y(317.7)], anchor="x5", range=[29.9, 95.9], tickvals=[30, 40, 50, 60, 70, 80, 90], **ax_style(SM, tl=3)),
    xaxis6=dict(domain=[X(743), X(1018)], anchor="y6", range=[-3300, 66300], tickvals=IT_TICKS,
                ticktext=IT_TICK_LABELS, **ax_style(BG, True)),
    yaxis6=dict(domain=[Y(527), Y(321)], anchor="x6", range=[-0.052, 1.059], tickvals=[0, 0.2, 0.4, 0.6, 0.8, 1.0],
                tickformat=".1f", **ax_style(BG, True)),
    xaxis7=dict(domain=[X(211), X(307.3)], anchor="y7", range=[117.1, 161.9], tickvals=[120, 140, 160], **ax_style(8.5, True)),
    yaxis7=dict(domain=[Y(442.3), Y(370)], anchor="x7", range=[95, 99], tickvals=[95, 96, 97, 98, 99], **ax_style(8.5, True)),
    xaxis8=dict(domain=[X(559), X(654.7)], anchor="y8", range=[117.8, 162.7], tickvals=[120, 140, 160], **ax_style(8.5, True)),
    yaxis8=dict(domain=[Y(440), Y(368.3)], anchor="x8", range=[91, 93], tickvals=[91, 91.5, 92, 92.5, 93],
                tickformat=".1f", **ax_style(8.5, True)),
)

fig.update_layout(width=W, height=H, margin=dict(l=0, r=0, t=0, b=0),
                  paper_bgcolor="white", plot_bgcolor="white", showlegend=False, **layout_axes)

shapes = []
annots = []


def legend(left, top, right, bottom, rows, lx0, lx1, tx, labels, fs, lw):
    shapes.append(dict(type="rect", xref="paper", yref="paper", x0=X(left), x1=X(right),
                       y0=Y(bottom), y1=Y(top), line=dict(color="#cccccc", width=1),
                       fillcolor="rgba(255,255,255,0.85)", layer="above"))
    for yy, lab, col in zip(rows, labels, COLORS):
        shapes.append(dict(type="line", xref="paper", yref="paper", x0=X(lx0), x1=X(lx1),
                           y0=Y(yy), y1=Y(yy), line=dict(color=col, width=lw), layer="above"))
        annots.append(dict(xref="paper", yref="paper", x=X(tx), y=Y(yy), text=lab, showarrow=False,
                           xanchor="left", yanchor="middle", borderpad=0,
                           font=dict(family="DejaVu Sans", size=fs, color="black")))


TS = "\u2009"
LAB_ADA = ["AdaSAM0: <i>μ</i>" + TS + "=" + TS + m for m in MU_LABELS]
LAB_MU = ["<i>μ</i>" + TS + "=" + TS + m for m in MU_LABELS]

legend(237, 12.7, 323, 80.7, [17.3, 28.6, 39.9, 51.2, 62.5, 73.8], 239.5, 253.5, 258, LAB_ADA, 6.6, 1.2)
legend(584, 9, 670, 78, [14.8, 26.1, 37.4, 48.7, 60.0, 71.3], 586.5, 600.5, 605, LAB_ADA, 6.6, 1.2)
legend(936, 10, 1014, 112, [19, 35.4, 51.8, 68.2, 84.6, 101], 939.5, 963.5, 968, LAB_MU, 12, 1.5)
legend(233, 465, 319, 533, [471.5, 482.4, 493.3, 504.2, 515.1, 526], 235.5, 249.5, 254, LAB_ADA, 6.6, 1.2)
legend(579, 464, 666, 533, [470.3, 481.3, 492.3, 503.3, 514.3, 525.5], 581, 595.5, 600, LAB_ADA, 6.6, 1.2)
legend(933, 328, 1011, 429, [336.5, 352.8, 369.1, 385.4, 401.7, 418], 937, 961, 966, LAB_MU, 12, 1.5)


def text(x, y, s, size, angle=0, family="DejaVu Sans"):
    annots.append(dict(xref="paper", yref="paper", x=X(x), y=Y(y), text=s, showarrow=False,
                       xanchor="center", yanchor="middle", textangle=angle, borderpad=0,
                       font=dict(family=family, size=size, color="black")))


AXL = 9.6
text(13, 116, "Train Loss", AXL, -90)
text(184.5, 242.5, "epochs", AXL)
text(361, 113, "Test Loss", AXL, -90)
text(529, 242.5, "epochs", AXL)
text(710, 107, "<i>λ<sub>k</sub></i>", 14, -90)
text(881, 241, "iterations", BG)
text(11, 432, "Train Accuracy %", AXL, -90)
text(180, 558.5, "epochs", AXL)
text(357.5, 434, "Test Accuracy %", AXL, -90)
text(526, 558.5, "epochs", AXL)
text(708, 423, "<i>α<sub>k</sub></i>", 14, -90)
text(880, 555, "iterations", BG)

CAP = 24
SERIF = "Liberation Serif"
text(169, 271, "(a)  Train Loss", CAP, 0, SERIF)
text(516, 271, "(b)  Test Loss", CAP, 0, SERIF)
text(862, 272, "(c)  <i>λ<sub>k</sub></i>", CAP, 0, SERIF)
text(163, 586, "(d)  Train Accuracy", CAP, 0, SERIF)
text(513, 586, "(e)  Test Accuracy", CAP, 0, SERIF)
text(866, 587, "(f)  <i>α<sub>k</sub></i>", CAP, 0, SERIF)

fig.update_layout(shapes=shapes, annotations=annots)
fig.write_html("out.html", config={"displayModeBar": False},
               post_script="document.body.style.margin='0';document.body.style.padding='0';")
